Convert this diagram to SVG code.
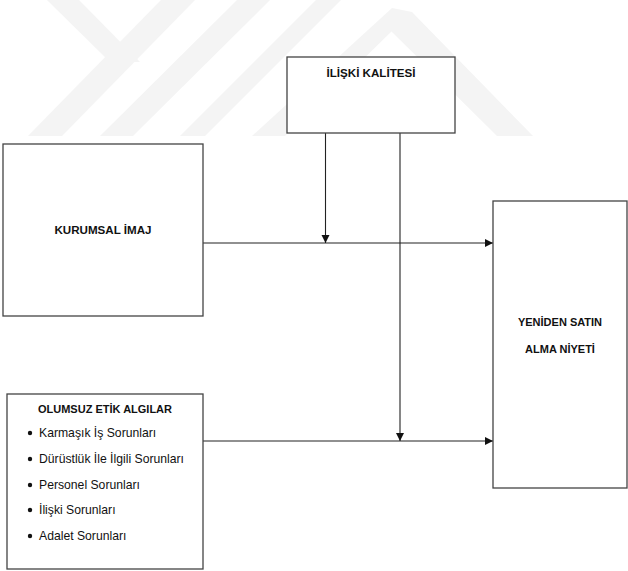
<svg xmlns="http://www.w3.org/2000/svg" width="628" height="571" viewBox="0 0 628 571">
<style>
.box{fill:#ffffff;stroke:#444444;stroke-width:1.3}
.wm{fill:#f4f4f4;stroke:none}
.b{font-family:"Liberation Sans",Arial,sans-serif;font-weight:bold;fill:#111111;text-anchor:middle}
.r{font-family:"Liberation Sans",Arial,sans-serif;font-size:12.2px;fill:#111111}
.c{fill:none;stroke:#222222;stroke-width:1.1}
</style>
<defs>
<marker id="arr" markerUnits="userSpaceOnUse" markerWidth="9" markerHeight="9" refX="8" refY="4" orient="auto">
<path d="M0,0 L8,4 L0,8 Z" fill="#111111"/>
</marker>
</defs>
<rect width="628" height="571" fill="#ffffff"/>
<g id="watermark">
<polygon class="wm" points="47,0 79,0 140,62 110,62"/>
<polygon class="wm" points="28,136 62,136 195,0 161,0"/>
<polygon class="wm" points="100,136 133,136 270,0 237,0"/>
<polygon class="wm" points="180,136 205,136 341,0 316,0"/>
<polygon class="wm" points="252,136 285,136 395,28 392,8"/>
<polygon class="wm" points="392,8 412,12 533,136 497,136 390,30"/>
</g>
<g id="connectors">
<line class="c" x1="203" y1="243" x2="493" y2="243" marker-end="url(#arr)"/>
<line class="c" x1="203" y1="441" x2="493" y2="441" marker-end="url(#arr)"/>
<line class="c" x1="325.5" y1="133" x2="325.5" y2="243" marker-end="url(#arr)"/>
<line class="c" x1="400" y1="133" x2="400" y2="441" marker-end="url(#arr)"/>
</g>
<g id="iliski-kalitesi">
<rect class="box" x="287" y="57" width="168" height="76"/>
<text class="b" x="371" y="77" font-size="11.6">İLİŞKİ KALİTESİ</text>
</g>
<g id="kurumsal-imaj">
<rect class="box" x="3" y="144" width="200" height="172"/>
<text class="b" x="103" y="234" font-size="11.6">KURUMSAL İMAJ</text>
</g>
<g id="olumsuz-etik-algilar">
<rect class="box" x="7" y="394" width="196" height="175"/>
<text class="b" x="105" y="413" font-size="11">OLUMSUZ ETİK ALGILAR</text>
<circle cx="30" cy="433" r="2.2" fill="#111111"/>
<text class="r" x="39" y="437">Karmaşık İş Sorunları</text>
<circle cx="30" cy="459" r="2.2" fill="#111111"/>
<text class="r" x="39" y="463">Dürüstlük İle İlgili Sorunları</text>
<circle cx="30" cy="485" r="2.2" fill="#111111"/>
<text class="r" x="39" y="489">Personel Sorunları</text>
<circle cx="30" cy="510" r="2.2" fill="#111111"/>
<text class="r" x="39" y="514">İlişki Sorunları</text>
<circle cx="30" cy="536" r="2.2" fill="#111111"/>
<text class="r" x="39" y="540">Adalet Sorunları</text>
</g>
<g id="yeniden-satin-alma-niyeti">
<rect class="box" x="493" y="201" width="134" height="287"/>
<text class="b" x="560" y="326" font-size="11">YENİDEN SATIN</text>
<text class="b" x="560" y="353" font-size="11">ALMA NİYETİ</text>
</g>
</svg>
